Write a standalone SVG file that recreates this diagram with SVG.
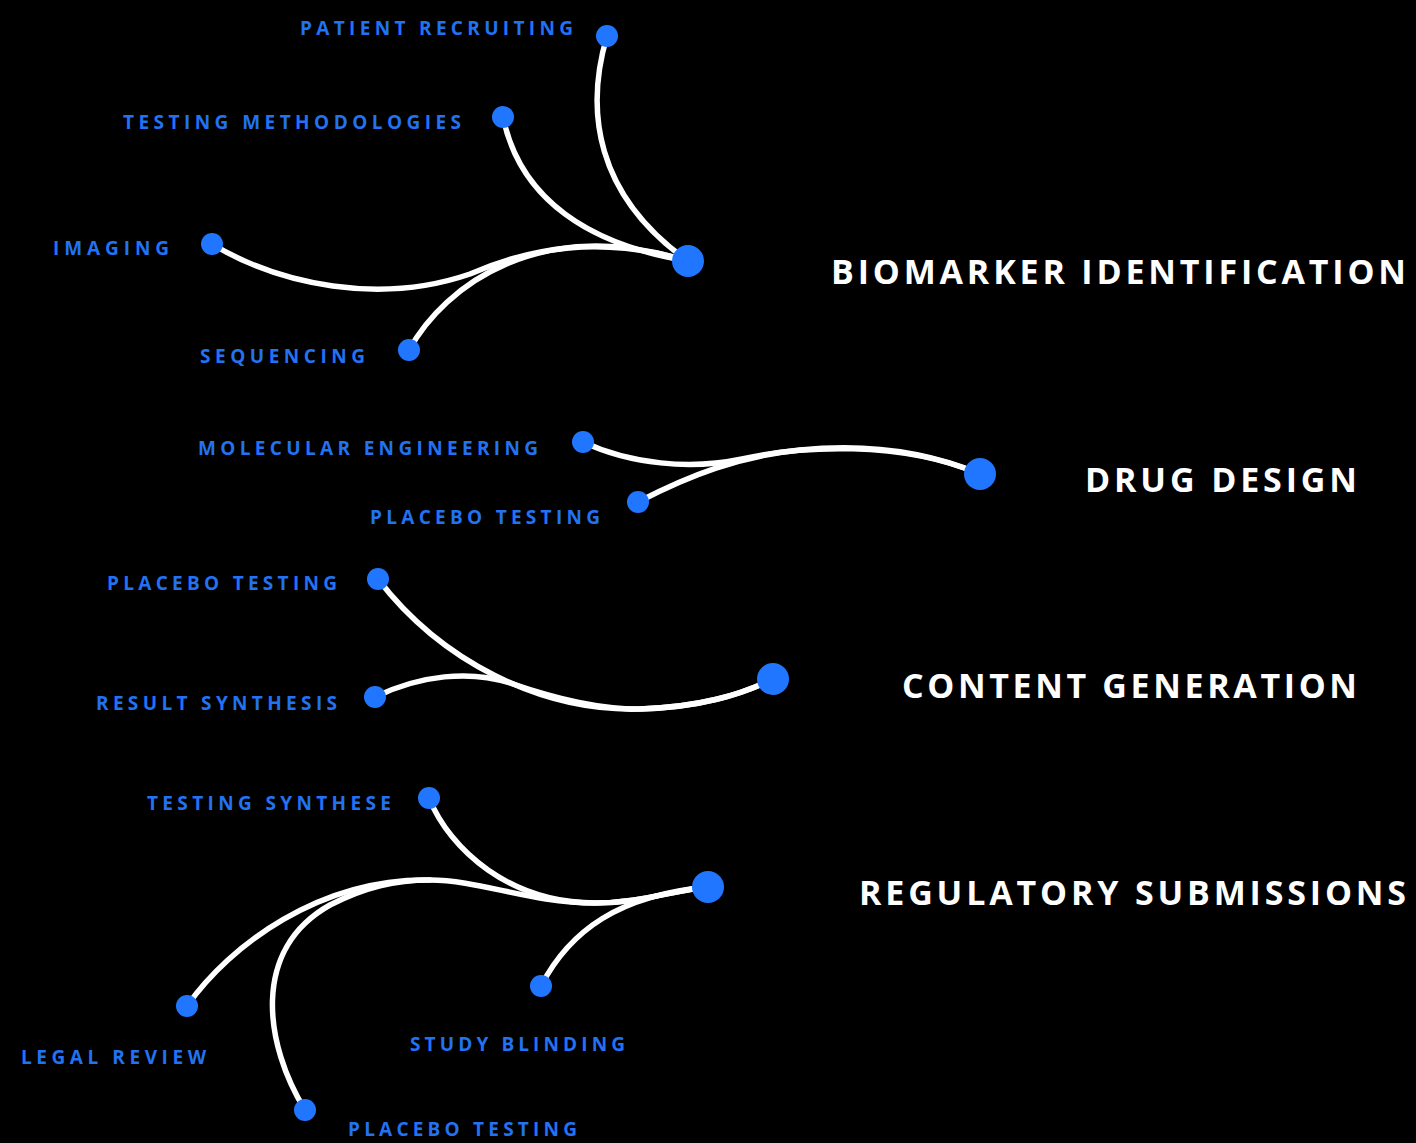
<svg xmlns="http://www.w3.org/2000/svg" width="1416" height="1143" viewBox="0 0 1416 1143">
  <style>
    .bg { fill: #000000; }
    .link { fill: none; stroke: #ffffff; stroke-width: 5.5; stroke-linecap: round; }
    .leaf { fill: #2176ff; }
    .hub { fill: #2176ff; }
    .label { font-family: "Open Sans", "Liberation Sans", sans-serif; font-weight: 700; font-size: 19px; fill: #2272f2; }
    .title { font-family: "Open Sans", "Liberation Sans", sans-serif; font-weight: 700; font-size: 34px; fill: #ffffff; }
  </style>

  <rect class="bg" x="0" y="0" width="1416" height="1143"/>

  <!-- connectors -->
  <g id="connectors">
    <!-- Biomarker identification -->
    <path class="link" d="M607,36 C585,110 595,195 688,261"/>
    <path class="link" d="M503,117 C520,200 590,245 688,261"/>
    <path class="link" d="M212,244 C280,285 380,305 470,274 C530,248 600,235 688,261"/>
    <path class="link" d="M409,350 C445,285 540,215 688,261"/>
    <!-- Drug design -->
    <path class="link" d="M583,442 C630,464 690,470 742,459 C800,446 900,440 980,474"/>
    <path class="link" d="M638,502 C690,475 740,456 800,450 C870,443 930,453 980,474"/>
    <!-- Content generation -->
    <path class="link" d="M378,579 C440,660 540,712 640,709 C700,707 740,695 773,679"/>
    <path class="link" d="M375,697 C420,675 470,670 510,683 C560,700 600,709 640,709 C700,707 740,695 773,679"/>
    <!-- Regulatory submissions -->
    <path class="link" d="M429,798 C450,850 510,903 595,903 C640,903 670,891 708,887"/>
    <path class="link" d="M187,1006 C230,945 320,878 430,880 C480,880 530,903 595,903 C640,903 670,891 708,887"/>
    <path class="link" d="M305,1110 C265,1045 250,950 330,905 C365,887 395,880 430,880"/>
    <path class="link" d="M541,986 C570,930 620,895 708,887"/>
  </g>

  <!-- Biomarker identification -->
  <g id="biomarker-identification">
    <circle class="hub" cx="688" cy="261" r="16"/>
    <text class="title" x="831" y="284" textLength="575" lengthAdjust="spacing">BIOMARKER IDENTIFICATION</text>
  </g>
  <g id="patient-recruiting">
    <circle class="leaf" cx="607" cy="36" r="11"/>
    <text class="label" x="300" y="35" textLength="273" lengthAdjust="spacing">PATIENT RECRUITING</text>
  </g>
  <g id="testing-methodologies">
    <circle class="leaf" cx="503" cy="117" r="11"/>
    <text class="label" x="123" y="129" textLength="338" lengthAdjust="spacing">TESTING METHODOLOGIES</text>
  </g>
  <g id="imaging">
    <circle class="leaf" cx="212" cy="244" r="11"/>
    <text class="label" x="53" y="255" textLength="116" lengthAdjust="spacing">IMAGING</text>
  </g>
  <g id="sequencing">
    <circle class="leaf" cx="409" cy="350" r="11"/>
    <text class="label" x="200" y="363" textLength="165" lengthAdjust="spacing">SEQUENCING</text>
  </g>

  <!-- Drug design -->
  <g id="drug-design">
    <circle class="hub" cx="980" cy="474" r="16"/>
    <text class="title" x="1085" y="492" textLength="272" lengthAdjust="spacing">DRUG DESIGN</text>
  </g>
  <g id="molecular-engineering">
    <circle class="leaf" cx="583" cy="442" r="11"/>
    <text class="label" x="198" y="455" textLength="340" lengthAdjust="spacing">MOLECULAR ENGINEERING</text>
  </g>
  <g id="drug-placebo-testing">
    <circle class="leaf" cx="638" cy="502" r="11"/>
    <text class="label" x="370" y="524" textLength="230" lengthAdjust="spacing">PLACEBO TESTING</text>
  </g>

  <!-- Content generation -->
  <g id="content-generation">
    <circle class="hub" cx="773" cy="679" r="16"/>
    <text class="title" x="902" y="698" textLength="455" lengthAdjust="spacing">CONTENT GENERATION</text>
  </g>
  <g id="content-placebo-testing">
    <circle class="leaf" cx="378" cy="579" r="11"/>
    <text class="label" x="107" y="590" textLength="230" lengthAdjust="spacing">PLACEBO TESTING</text>
  </g>
  <g id="result-synthesis">
    <circle class="leaf" cx="375" cy="697" r="11"/>
    <text class="label" x="96" y="710" textLength="241" lengthAdjust="spacing">RESULT SYNTHESIS</text>
  </g>

  <!-- Regulatory submissions -->
  <g id="regulatory-submissions">
    <circle class="hub" cx="708" cy="887" r="16"/>
    <text class="title" x="859" y="905" textLength="547" lengthAdjust="spacing">REGULATORY SUBMISSIONS</text>
  </g>
  <g id="testing-synthese">
    <circle class="leaf" cx="429" cy="798" r="11"/>
    <text class="label" x="147" y="810" textLength="244" lengthAdjust="spacing">TESTING SYNTHESE</text>
  </g>
  <g id="legal-review">
    <circle class="leaf" cx="187" cy="1006" r="11"/>
    <text class="label" x="21" y="1064" textLength="185" lengthAdjust="spacing">LEGAL REVIEW</text>
  </g>
  <g id="study-blinding">
    <circle class="leaf" cx="541" cy="986" r="11"/>
    <text class="label" x="410" y="1051" textLength="215" lengthAdjust="spacing">STUDY BLINDING</text>
  </g>
  <g id="regulatory-placebo-testing">
    <circle class="leaf" cx="305" cy="1110" r="11"/>
    <text class="label" x="348" y="1136" textLength="229" lengthAdjust="spacing">PLACEBO TESTING</text>
  </g>
</svg>
